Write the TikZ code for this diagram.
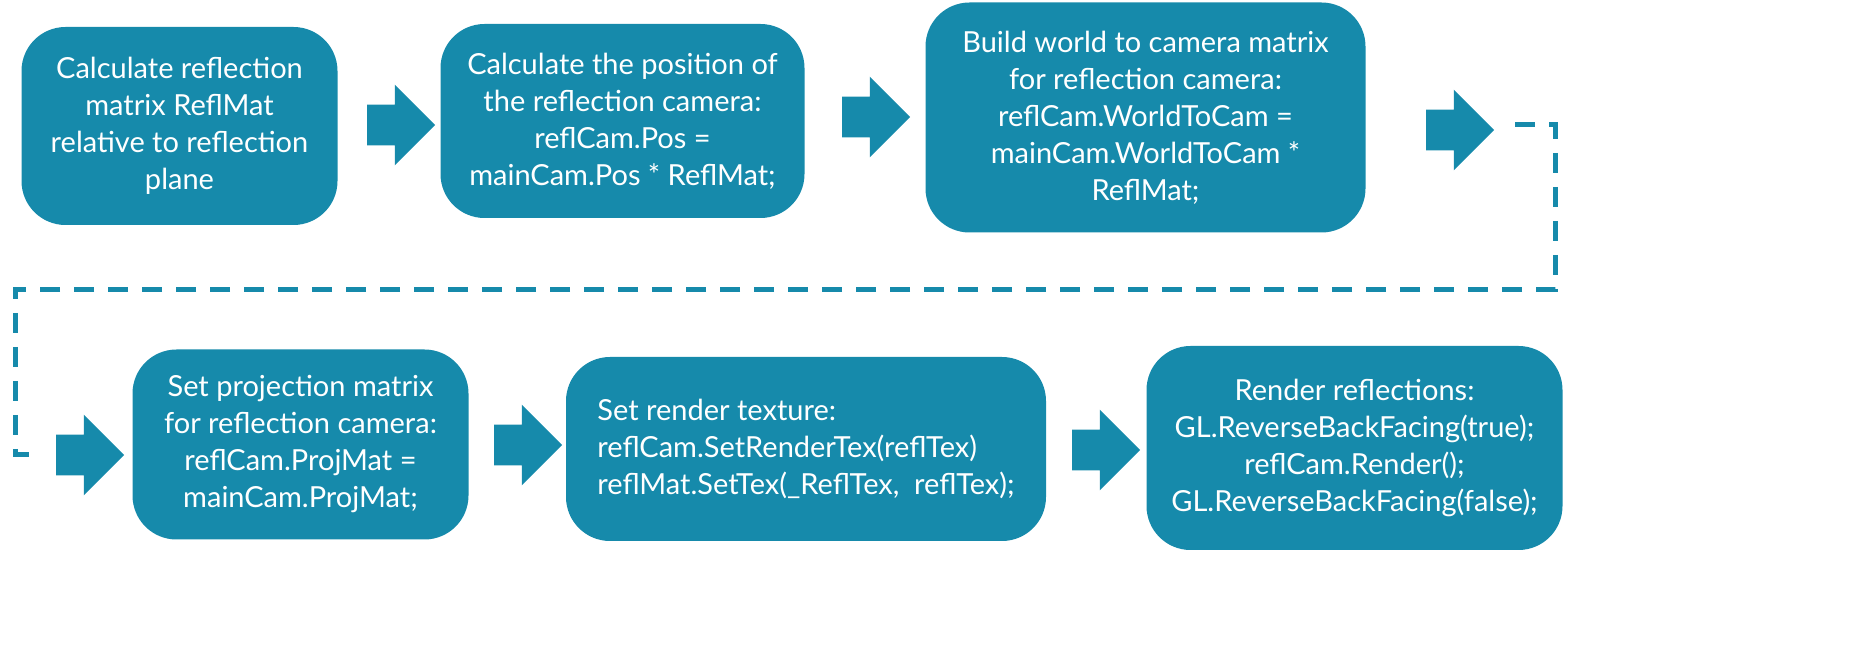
\documentclass[tikz,border=0pt]{standalone}
\usepackage{fontspec}
\setmainfont{Lato}
\usetikzlibrary{shapes.arrows, positioning}
\definecolor{stepblue}{HTML}{168AAB}
\begin{document}
\begin{tikzpicture}[x=0.5pt, y=-0.5pt,
stage/.style={fill=stepblue, rectangle, rounded corners=22pt, align=center,
  text=white, font=\fontsize{14.5}{18.5}\selectfont, inner sep=0pt},
go/.style={single arrow, fill=stepblue, minimum height=34pt,
  single arrow head extend=10pt, inner sep=10pt, minimum width=40pt},
link/.style={draw=stepblue, line width=2.5pt, dash pattern=on 10pt off 7pt}
]

\node[stage, minimum width=158pt, minimum height=99pt] (calc) at (179.5,126) {Calculate reflection\\matrix ReflMat\\relative to reflection\\plane};
\node[stage, minimum width=182pt, minimum height=97pt] (pos) at (622.5,121) {Calculate the position of\\the reflection camera:\\reflCam.Pos =\\mainCam.Pos * ReflMat;};
\node[stage, minimum width=220pt, minimum height=115pt] (view) at (1145.5,117.5) {Build world to camera matrix\\for reflection camera:\\reflCam.WorldToCam =\\mainCam.WorldToCam *\\ReflMat;};
\node[stage, minimum width=168pt, minimum height=95pt] (proj) at (300.5,444.5) {Set projection matrix\\for reflection camera:\\reflCam.ProjMat =\\mainCam.ProjMat;};
\node[stage, minimum width=240pt, minimum height=92pt, align=left] (tex) at (806,449) {Set render texture:\\reflCam.SetRenderTex(reflTex)\\reflMat.SetTex(\_ReflTex,\ \ reflTex);};
\node[stage, minimum width=208pt, minimum height=102pt] (render) at (1354.5,448) {Render reflections:\\GL.ReverseBackFacing(true);\\reflCam.Render();\\GL.ReverseBackFacing(false);};

\node[go] (a1) at (391,125) {};
\node[go] (a2) at (866,117) {};
\node[go] (a3) at (1450,130) {};
\node[go] (a4) at (80,455) {};
\node[go] (a5) at (518,445) {};
\node[go] (a6) at (1096,450) {};

\coordinate (wrapA) at (1515,125);
\coordinate (wrapB) at (1555,125);
\coordinate (wrapC) at (1555,290);
\coordinate (wrapD) at (15,290);
\coordinate (wrapE) at (15,455);
\coordinate (wrapF) at (42,455);
\draw[link] (wrapA) -- (wrapB) -- (wrapC) -- (wrapD) -- (wrapE) -- (wrapF);

\pgfresetboundingbox
\path[use as bounding box] (0,0) rectangle (1870,662);
\end{tikzpicture}
\end{document}
